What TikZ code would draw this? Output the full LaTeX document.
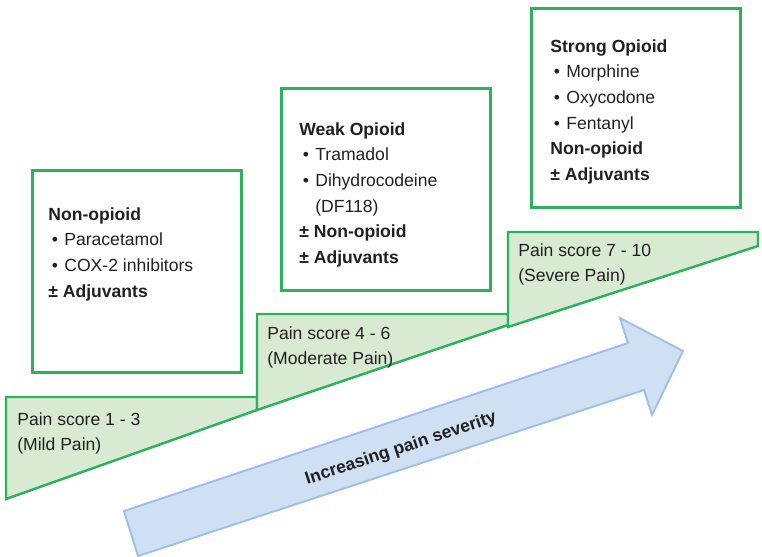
\documentclass[tikz,border=0pt]{standalone}
\usepackage{fontspec}
\setmainfont{Liberation Sans}
\usepackage{tikz}
\usetikzlibrary{
    positioning,  % relative placement
}
\definecolor{laddergreen}{RGB}{44,178,92}
\definecolor{stepfill}{RGB}{217,234,211}
\definecolor{arrowfill}{RGB}{207,224,243}
\definecolor{arrowline}{RGB}{157,192,232}
\definecolor{inkgray}{RGB}{35,31,32}
\newcommand{\bul}{\makebox[0.32cm][l]{\hspace{0.07cm}\textbullet}}

\begin{document}
\begin{tikzpicture}[x=0.02cm, y=-0.02cm,
        drugbox/.style={draw=laddergreen, line width=1.6pt, anchor=north west,
            minimum width=4.18cm, minimum height=4.04cm, inner sep=0pt},
        drugtext/.style={anchor=north west, inner sep=0pt, align=left, text=inkgray,
            font=\fontsize{10pt}{14.6pt}\selectfont},
        stepshape/.style={draw=laddergreen, fill=stepfill, line width=1.4pt},
        bigarrow/.style={draw=arrowline, fill=arrowfill, line width=1.1pt}]
    \useasboundingbox (0, 0) rectangle (762, 556);

    % pain score steps
    \draw[stepshape] (6, 397) -- (257, 397) -- (257, 410) -- (6, 499) -- cycle;
    \draw[stepshape] (257, 314) -- (508, 314) -- (508, 325) -- (257, 410) -- cycle;
    \draw[stepshape] (508, 232) -- (758, 232) -- (758, 246) -- (508, 327) -- cycle;
    \node[drugtext] (mild) at (17, 412) {Pain score 1 - 3\\(Mild Pain)};
    \node[drugtext] (moderate) at (267, 326) {Pain score 4 - 6\\(Moderate Pain)};
    \node[drugtext] (severe) at (518, 243) {Pain score 7 - 10\\(Severe Pain)};

    % severity arrow
    \draw[bigarrow] (124, 511) -- (628, 343) -- (620, 318) -- (683, 351)
        -- (652, 415) -- (644, 390) -- (138, 556) -- cycle;
    \node[rotate=18.4, text=inkgray, font=\fontsize{10pt}{12pt}\selectfont\bfseries]
        (severity) at (401, 449) {Increasing pain severity};

    % drug boxes
    \node[drugbox] (step1) at (31, 169) {};
    \node[drugbox] (step2) at (280, 87) {};
    \node[drugbox, minimum height=3.98cm] (step3) at (530, 7) {};

    \node[drugtext] (nonopioid) at (48, 207)
        {\textbf{Non-opioid}\\\bul Paracetamol\\\bul COX-2 inhibitors\\\textbf{\textpm\ Adjuvants}};
    \node[drugtext] (weak) at (299, 122)
        {\textbf{Weak Opioid}\\\bul Tramadol\\\bul Dihydrocodeine\\\hspace*{0.32cm}(DF118)\\%
         \textbf{\textpm\ Non-opioid}\\\textbf{\textpm\ Adjuvants}};
    \node[drugtext] (strong) at (550, 39)
        {\textbf{Strong Opioid}\\\bul Morphine\\\bul Oxycodone\\\bul Fentanyl\\%
         \textbf{Non-opioid}\\\textbf{\textpm\ Adjuvants}};
\end{tikzpicture}
\end{document}
